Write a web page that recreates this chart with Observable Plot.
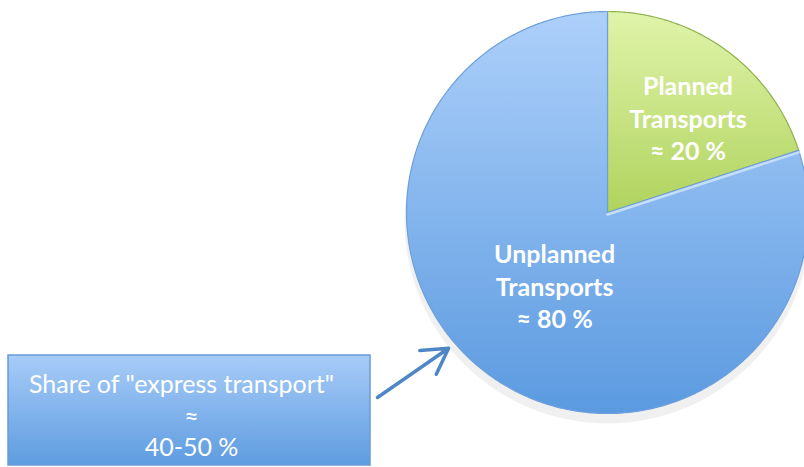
<!DOCTYPE html>
<html>
<head>
<meta charset="utf-8">
<script src="https://cdn.jsdelivr.net/npm/d3@7"></script>
<script src="https://cdn.jsdelivr.net/npm/@observablehq/plot@0.6"></script>
<style>
  html, body { margin: 0; padding: 0; background: #ffffff; }
  svg { display: block; }
</style>
</head>
<body>
<div id="chart"></div>
<script>
// ---- data ----
const categories = ["Planned Transports", "Unplanned Transports"];
const shares = [20, 80];
const sliceLabels = ["Planned\nTransports\n≈ 20 %", "Unplanned\nTransports\n≈ 80 %"];
const noteHeading = 'Share of "express transport"';
const noteValue = "≈\n40-50 %";

// ---- layout ----
const W = 804, H = 467;
const cx = 607, cy = 212, R = 201;
const fills = ["url(#greenGrad)", "url(#blueGrad)"];
const strokes = ["#8fb14a", "#6d9fdc"];

const total = d3.sum(shares);
let acc = 0;
const slices = categories.map((c, i) => {
  const a0 = acc / total * 2 * Math.PI;
  acc += shares[i];
  const a1 = acc / total * 2 * Math.PI;
  const n = Math.max(8, Math.ceil((a1 - a0) / 0.01));
  const pts = [{x: cx, y: cy, c}];
  for (let k = 0; k <= n; k++) {
    const a = a0 + (a1 - a0) * k / n;
    pts.push({x: cx + R * Math.sin(a), y: cy - R * Math.cos(a), c});
  }
  pts.push({x: cx, y: cy, c});
  return {c, a0, a1, mid: (a0 + a1) / 2, pts, label: sliceLabels[i], i};
});

const labelRadius = [125, 90];
const labelOffset = [[7, 6], [0, 0]];
const labelPts = slices.map(s => ({
  label: s.label,
  x: cx + labelRadius[s.i] * Math.sin(s.mid) + labelOffset[s.i][0],
  y: cy - labelRadius[s.i] * Math.cos(s.mid) + labelOffset[s.i][1]
}));

const box = [{x1: 8, x2: 370, y1: 355, y2: 465}];
const arrowAngle = 229.5 * Math.PI / 180;
const arrow = [{
  x1: 377, y1: 397,
  x2: cx + 209 * Math.sin(arrowAngle), y2: cy - 209 * Math.cos(arrowAngle)
}];

const marks = [];
// soft shadow under pie
marks.push(Plot.dot([{x: cx, y: cy + 8}], {x: "x", y: "y", r: R + 2, fill: "#000", fillOpacity: 0.06, stroke: "none"}));
slices.forEach(s => {
  marks.push(Plot.line(s.pts, {x: "x", y: "y", fill: fills[s.i], stroke: strokes[s.i], strokeWidth: 1.2, curve: "linear"}));
});
// highlight on slice boundary
marks.push(Plot.line([{x: cx, y: cy}, {x: cx + R * Math.sin(slices[0].a1), y: cy - R * Math.cos(slices[0].a1)}],
  {x: "x", y: "y", stroke: "#c4defc", strokeWidth: 2.5, dy: 2}));
labelPts.forEach(p => {
  marks.push(Plot.text([p], {x: "x", y: "y", text: "label", fill: "white", fontSize: 25, fontWeight: "bold",
    fontFamily: "Lato, 'Open Sans', sans-serif", lineHeight: 1.3, lineAnchor: "middle", textAnchor: "middle"}));
});
marks.push(Plot.rect(box, {x1: "x1", x2: "x2", y1: "y1", y2: "y2", fill: "url(#boxGrad)", stroke: "#6a9ad6", strokeWidth: 1.5}));
marks.push(Plot.text([noteHeading], {x: 181, y: 384, text: d => d, fill: "white", fontSize: 25,
  fontFamily: "Lato, 'Open Sans', sans-serif", textAnchor: "middle", lineAnchor: "middle"}));
marks.push(Plot.text([noteValue], {x: 191, y: 430, text: d => d, fill: "white", fontSize: 25,
  fontFamily: "Lato, 'Open Sans', sans-serif", textAnchor: "middle", lineAnchor: "middle", lineHeight: 1.25}));
marks.push(Plot.arrow(arrow, {x1: "x1", y1: "y1", x2: "x2", y2: "y2", stroke: "#4f86c6", strokeWidth: 3.5, headLength: 20, bend: 0}));

const svg = Plot.plot({
  width: W, height: H, margin: 0,
  style: {background: "#ffffff", overflow: "hidden"},
  x: {type: "linear", domain: [0, W], range: [0, W], axis: null},
  y: {type: "linear", domain: [0, H], range: [0, H], axis: null},
  marks
});

const defs = d3.select(svg).insert("defs", ":first-child");
function grad(id, y0, y1, c0, c1) {
  const g = defs.append("linearGradient").attr("id", id)
    .attr("gradientUnits", "userSpaceOnUse").attr("x1", 0).attr("x2", 0).attr("y1", y0).attr("y2", y1);
  g.append("stop").attr("offset", 0).attr("stop-color", c0);
  g.append("stop").attr("offset", 1).attr("stop-color", c1);
}
grad("blueGrad", cy - R, cy + R, "#add0fa", "#5b9ae0");
grad("greenGrad", cy - R, cy, "#e0f4aa", "#b0d35e");
grad("boxGrad", 355, 465, "#a8ccf8", "#5e9ce0");

document.getElementById("chart").appendChild(svg);
</script>
</body>
</html>
